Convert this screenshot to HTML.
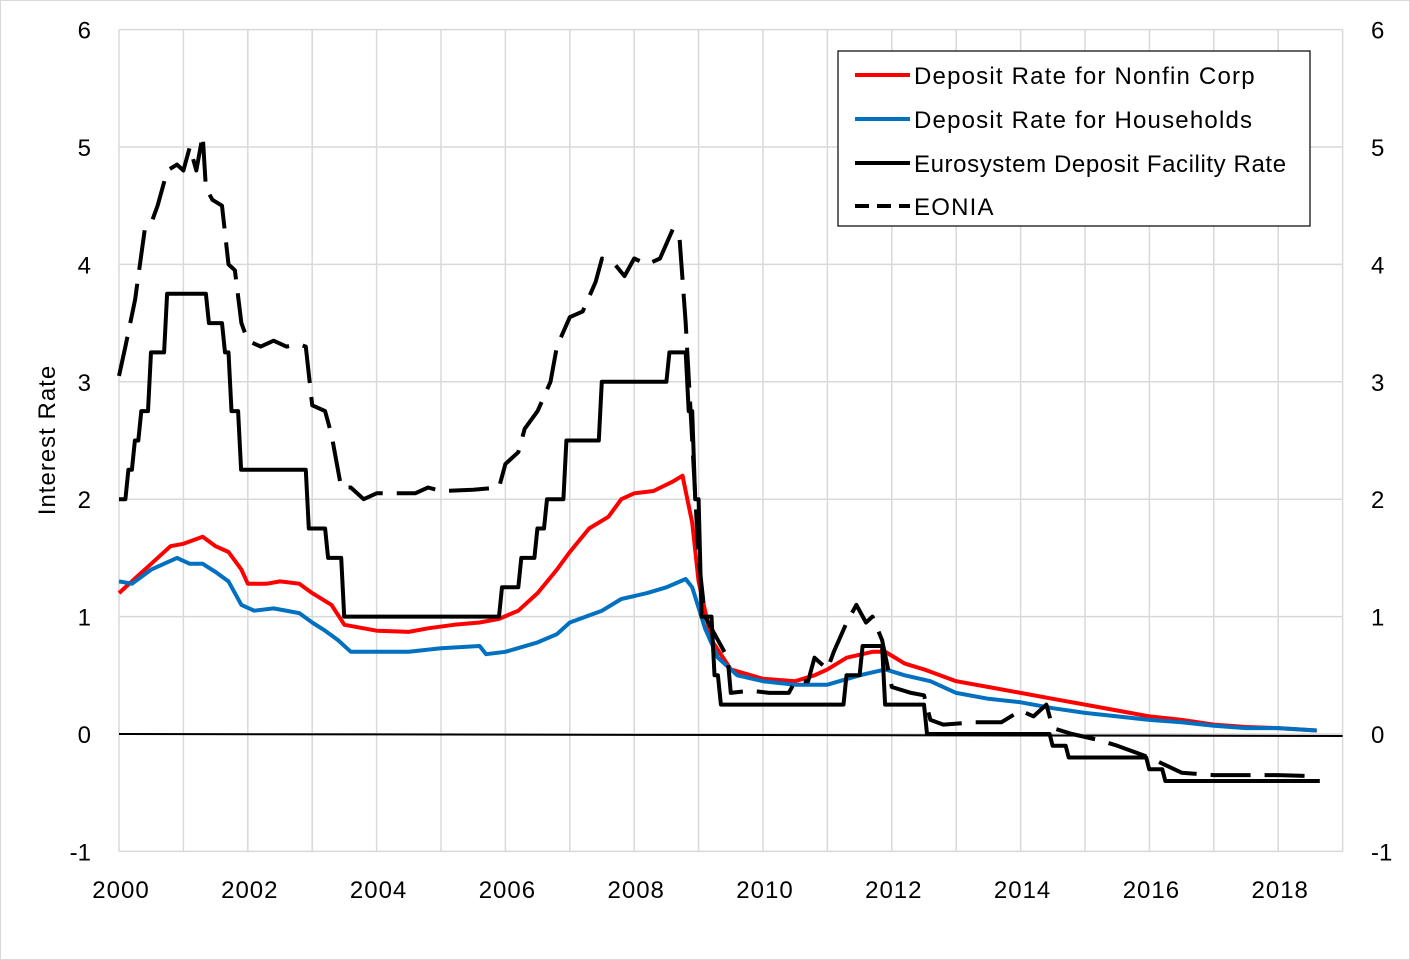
<!DOCTYPE html>
<html><head><meta charset="utf-8"><style>
html,body{margin:0;padding:0;background:#fff;}
svg{display:block;font-family:"Liberation Sans",sans-serif;}
</style></head><body>
<svg id="chart" width="1410" height="960" viewBox="0 0 1410 960">
<rect x="0.5" y="0.5" width="1409" height="959" fill="#fff" stroke="#d9d9d9"/>
<g id="grid"></g>
<g id="axes"></g>
<g id="series"></g>
<text transform="translate(55,440) rotate(-90)" text-anchor="middle" font-size="24" letter-spacing="1">Interest Rate</text>
<g letter-spacing="1.2">
<rect x="838" y="51" width="472" height="175" fill="#fff" stroke="#000" stroke-width="1.2"/>
<g><line x1="855" y1="75" x2="910" y2="75" stroke="#ff0000" stroke-width="4"/><text x="914" y="84" font-size="24">Deposit Rate for Nonfin Corp</text></g>
<g><line x1="855" y1="119" x2="910" y2="119" stroke="#0070c0" stroke-width="4"/><text x="914" y="128" font-size="24">Deposit Rate for Households</text></g>
<g><line x1="855" y1="163" x2="910" y2="163" stroke="#000" stroke-width="4"/><text x="914" y="172" font-size="24" letter-spacing="0.6">Eurosystem Deposit Facility Rate</text></g>
<g><line x1="855" y1="206" x2="910" y2="206" stroke="#000" stroke-width="4" stroke-dasharray="14,8"/><text x="914" y="215" font-size="24">EONIA</text></g>
</g>
</svg>
<script>
const yTicks=[-1,0,1,2,3,4,5,6];
const xTickYears=[2000,2002,2004,2006,2008,2010,2012,2014,2016,2018];
const dfrDates=[2000.0,2000.1,2000.2,2000.3,2000.45,2000.7,2001.35,2001.6,2001.7,2001.85,2002.9,2003.2,2003.45,2005.9,2006.2,2006.45,2006.6,2006.9,2007.0,2007.45,2008.5,2008.8,2008.9,2009.0,2009.2,2009.3,2011.25,2011.5,2011.85,2012.5,2014.45,2014.7,2015.95,2016.2,2018.6];
const dfrValues=[2.0,2.25,2.5,2.75,3.25,3.75,3.5,3.25,2.75,2.25,1.75,1.5,1.0,1.25,1.5,1.75,2.0,2.5,2.5,3.0,3.25,2.75,2.0,1.0,0.5,0.25,0.5,0.75,0.25,0.0,-0.1,-0.2,-0.3,-0.4,-0.4];
const eoniaDates=[2000.0,2000.1,2000.25,2000.4,2000.5,2000.6,2000.75,2000.9,2001.0,2001.1,2001.2,2001.3,2001.35,2001.45,2001.6,2001.7,2001.8,2001.9,2002.0,2002.2,2002.4,2002.6,2002.8,2002.9,2003.0,2003.2,2003.3,2003.45,2003.6,2003.8,2004.0,2004.3,2004.6,2004.8,2005.0,2005.5,2005.9,2006.0,2006.2,2006.3,2006.5,2006.7,2006.8,2007.0,2007.2,2007.4,2007.5,2007.7,2007.85,2008.0,2008.2,2008.4,2008.6,2008.7,2008.8,2008.9,2009.0,2009.1,2009.3,2009.45,2009.5,2009.8,2010.1,2010.4,2010.5,2010.7,2010.8,2011.0,2011.1,2011.3,2011.45,2011.6,2011.7,2011.85,2012.0,2012.3,2012.5,2012.6,2012.8,2013.3,2013.7,2014.0,2014.2,2014.4,2014.5,2014.8,2015.2,2015.5,2016.0,2016.5,2017.0,2018.0,2018.6];
const eoniaValues=[3.05,3.3,3.7,4.3,4.35,4.5,4.8,4.85,4.8,5.0,4.8,5.1,4.65,4.55,4.5,4.0,3.95,3.5,3.35,3.3,3.35,3.3,3.32,3.3,2.8,2.75,2.55,2.1,2.1,2.0,2.05,2.05,2.05,2.1,2.07,2.08,2.1,2.3,2.4,2.6,2.75,3.0,3.3,3.55,3.6,3.85,4.05,4.0,3.9,4.05,4.0,4.05,4.3,4.25,3.5,2.5,1.5,1.0,0.8,0.65,0.35,0.37,0.35,0.35,0.45,0.45,0.65,0.55,0.7,0.95,1.1,0.95,1.0,0.8,0.4,0.35,0.33,0.12,0.08,0.1,0.1,0.2,0.15,0.25,0.05,0.0,-0.05,-0.1,-0.2,-0.33,-0.35,-0.35,-0.36];
const nfcDates=[2000.0,2000.3,2000.5,2000.8,2001.0,2001.3,2001.5,2001.7,2001.9,2002.0,2002.3,2002.5,2002.8,2003.0,2003.3,2003.5,2003.8,2004.0,2004.5,2004.8,2005.2,2005.6,2005.9,2006.2,2006.5,2006.8,2007.0,2007.3,2007.6,2007.8,2008.0,2008.3,2008.6,2008.75,2008.9,2009.0,2009.2,2009.5,2010.0,2010.5,2010.8,2011.0,2011.3,2011.7,2011.9,2012.2,2012.5,2013.0,2013.5,2014.0,2014.5,2015.0,2015.5,2016.0,2016.5,2017.0,2017.5,2018.0,2018.6];
const nfcValues=[1.2,1.35,1.45,1.6,1.62,1.68,1.6,1.55,1.4,1.28,1.28,1.3,1.28,1.2,1.1,0.93,0.9,0.88,0.87,0.9,0.93,0.95,0.98,1.05,1.2,1.4,1.55,1.75,1.85,2.0,2.05,2.07,2.15,2.2,1.8,1.3,0.8,0.55,0.47,0.45,0.5,0.55,0.65,0.7,0.7,0.6,0.55,0.45,0.4,0.35,0.3,0.25,0.2,0.15,0.12,0.08,0.06,0.05,0.03];
const hhDates=[2000.0,2000.2,2000.5,2000.9,2001.1,2001.3,2001.5,2001.7,2001.9,2002.1,2002.4,2002.8,2003.0,2003.2,2003.4,2003.6,2004.0,2004.5,2005.0,2005.6,2005.7,2006.0,2006.5,2006.8,2007.0,2007.5,2007.8,2008.2,2008.5,2008.8,2008.9,2009.1,2009.3,2009.6,2010.0,2010.5,2011.0,2011.5,2011.9,2012.2,2012.6,2013.0,2013.5,2014.0,2014.5,2015.0,2015.5,2016.0,2016.5,2017.0,2017.5,2018.0,2018.6];
const hhValues=[1.3,1.28,1.4,1.5,1.45,1.45,1.38,1.3,1.1,1.05,1.07,1.03,0.95,0.88,0.8,0.7,0.7,0.7,0.73,0.75,0.68,0.7,0.78,0.85,0.95,1.05,1.15,1.2,1.25,1.32,1.25,0.9,0.65,0.5,0.45,0.42,0.42,0.5,0.55,0.5,0.45,0.35,0.3,0.27,0.22,0.18,0.15,0.12,0.1,0.07,0.05,0.05,0.03];

const NS="http://www.w3.org/2000/svg";
const X0=119,PX_PER_YEAR=64.4,Y0=734,PX_PER_UNIT=117.4;
function xs(t){return X0+(t-2000)*PX_PER_YEAR;}
function ys(v){return Y0-v*PX_PER_UNIT;}
function mk(tag,attrs,parent){const e=document.createElementNS(NS,tag);for(const k in attrs)e.setAttribute(k,attrs[k]);parent.appendChild(e);return e;}
const grid=document.getElementById('grid'),axes=document.getElementById('axes'),series=document.getElementById('series');
for(let yr=2000;yr<=2019;yr++){
  const l=mk('line',{x1:xs(yr),x2:xs(yr),y1:ys(6),y2:ys(-1),stroke:'#d9d9d9','stroke-width':1.5},grid);
  
  
}
yTicks.forEach(v=>{
  const l=mk('line',{x1:xs(2000),x2:xs(2019),y1:ys(v),y2:ys(v),stroke:'#d9d9d9','stroke-width':1.5},grid);
  
  
  const t1=mk('text',{x:91,y:ys(v)+9,'text-anchor':'end','font-size':24},axes);t1.textContent=v;
  
  
  const t2=mk('text',{x:1371,y:ys(v)+9,'text-anchor':'start','font-size':24},axes);t2.textContent=v;
  
  
});
xTickYears.forEach(yr=>{
  const t=mk('text',{x:xs(yr)+2,y:898,'text-anchor':'middle','font-size':24,'letter-spacing':1},axes);t.textContent=yr;
  
  
});
const zl=mk('line',{x1:xs(2000),x2:xs(2019),y1:ys(0),y2:ys(0)+2,stroke:'#000','stroke-width':2},axes);


function linePath(d,v){return d.map((t,i)=>(i?'L':'M')+xs(t).toFixed(1)+','+ys(v[i]).toFixed(1)).join('');}
function stepPath(d,v){let p='M'+xs(d[0])+','+ys(v[0]);for(let i=1;i<d.length;i++){p+='L'+xs(d[i]).toFixed(1)+','+ys(v[i-1]).toFixed(1)+'L'+(xs(d[i])+3).toFixed(1)+','+ys(v[i]).toFixed(1);}return p;}
const s1=mk('path',{d:linePath(nfcDates,nfcValues),fill:'none',stroke:'#ff0000','stroke-width':4,'stroke-linejoin':'round'},series);


const s2=mk('path',{d:linePath(hhDates,hhValues),fill:'none',stroke:'#0070c0','stroke-width':4,'stroke-linejoin':'round'},series);


const s3=mk('path',{d:stepPath(dfrDates,dfrValues),fill:'none',stroke:'#000','stroke-width':4,'stroke-linejoin':'round'},series);


const s4=mk('path',{d:linePath(eoniaDates,eoniaValues),fill:'none',stroke:'#000','stroke-width':4,'stroke-dasharray':'40,14','stroke-linejoin':'round'},series);


</script>
</body></html>
